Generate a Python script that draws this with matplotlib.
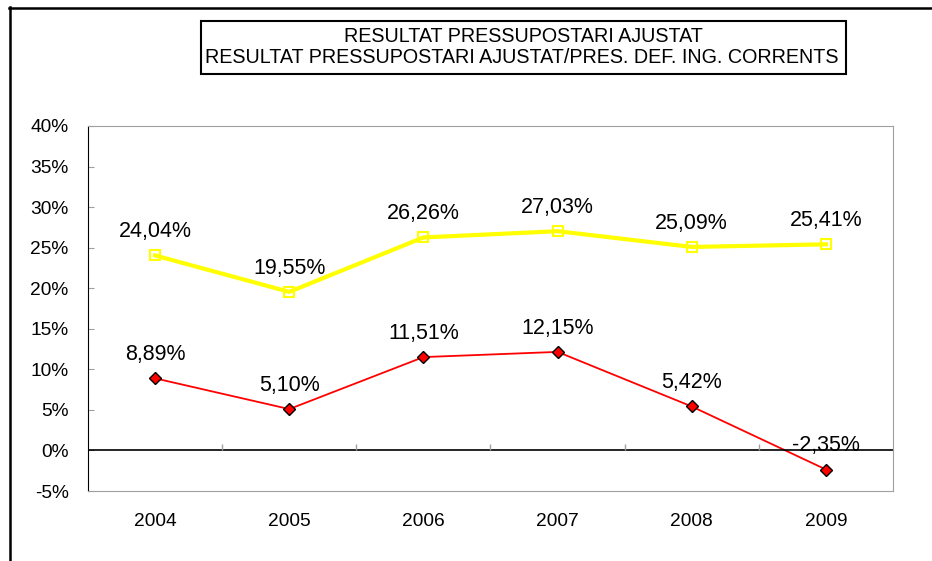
import matplotlib.pyplot as plt
from matplotlib.lines import Line2D
from matplotlib.patches import Rectangle
import matplotlib.ticker as mtick

plt.rcParams['font.family'] = ['Liberation Sans', 'DejaVu Sans']

anys = ['2004', '2005', '2006', '2007', '2008', '2009']
resultat_ing = [24.04, 19.55, 26.26, 27.03, 25.09, 25.41]   # groc
resultat_aj = [8.89, 5.10, 11.51, 12.15, 5.42, -2.35]        # vermell
llegenda = ['RESULTAT PRESSUPOSTARI AJUSTAT',
            'RESULTAT PRESSUPOSTARI AJUSTAT/PRES. DEF. ING. CORRENTS']

W, H = 932, 561
fig = plt.figure(figsize=(W / 100, H / 100), dpi=100)
ax = fig.add_axes([88 / W, 1 - 491 / H, (893 - 88) / W, (491 - 126) / H])

x = list(range(len(anys)))
ax.plot(x, resultat_ing, '-s', color='#FFFF00', lw=3, ms=7.5, mfc='none', mec='#FFFF00', mew=1.5)
ax.plot(x, resultat_aj, '-D', color='#FF0000', lw=1.3, ms=6, mfc='#FF0000', mec='black', mew=1)

for serie in (resultat_ing, resultat_aj):
    for i, v in zip(x, serie):
        txt = ('%.2f%%' % v).replace('.', ',')
        ax.annotate(txt, (i, v), xytext=(0, 13), textcoords='offset points',
                    ha='center', va='baseline', fontsize=15.5)

ax.axhline(0, color='black', lw=1.2)
gris = '#A0A0A0'
ax.plot([i + 0.5 for i in x[:-1]], [0] * (len(x) - 1), ls='none', marker=2, ms=4.5, color=gris, mew=1)

ax.set_xlim(-0.5, len(anys) - 0.5)
ax.set_ylim(-5, 40)
ax.set_yticks(range(-5, 41, 5))
ax.yaxis.set_major_formatter(mtick.FormatStrFormatter('%d%%'))
ax.tick_params(axis='y', direction='in', length=4.5, color=gris, pad=14, labelsize=13.8)
ax.set_xticks(x)
ax.set_xticklabels(anys)
ax.tick_params(axis='x', length=0, pad=16, labelsize=13.8)

for s in ('top', 'right', 'bottom'):
    ax.spines[s].set_color(gris)
ax.spines['left'].set_color('black')

# quadre de llegenda
fig.add_artist(Rectangle((201 / W, 1 - 74 / H), (846 - 201) / W, (74 - 21) / H,
                         transform=fig.transFigure, fc='white', ec='black', lw=1.5))
fig.text(523.5 / W, 1 - 37 / H, llegenda[0], ha='center', va='center', fontsize=14.2)
fig.text(522 / W, 1 - 57.5 / H, llegenda[1], ha='center', va='center', fontsize=14.2)

# marc exterior
fig.add_artist(Line2D([9 / W, 1], [1 - 7.5 / H, 1 - 7.5 / H], transform=fig.transFigure, color='black', lw=1.8))
fig.add_artist(Line2D([9.5 / W, 9.5 / W], [0, 1 - 7 / H], transform=fig.transFigure, color='black', lw=1.8))

fig.savefig('out.png', dpi=100)
